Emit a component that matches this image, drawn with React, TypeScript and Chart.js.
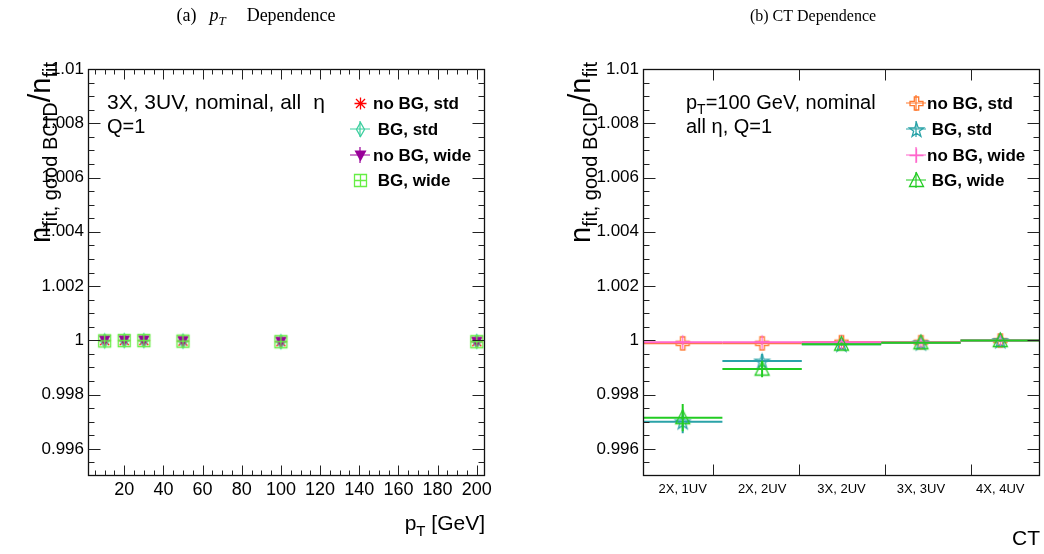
import React, { useEffect, useRef } from "react";
import { Chart, registerables } from "chart.js";

Chart.register(...registerables);

// ---------------- data ----------------
const ptValues = [10, 20, 30, 50, 100, 200];
const ptNoBGStd = [0.99999, 0.99999, 0.99999, 0.99997, 0.99995, 0.99995];
const ptBGStd = [0.99998, 0.99999, 0.99999, 0.99997, 0.99995, 0.99996];
const ptNoBGWide = [1.0, 1.0, 1.0, 0.99998, 0.99995, 0.99995];
const ptBGWide = [0.99998, 0.99999, 0.99999, 0.99997, 0.99995, 0.99995];
const ptErr = [0.00004, 0.00003, 0.00003, 0.00003, 0.00003, 0.00003];

const ctCategories = ["2X, 1UV", "2X, 2UV", "3X, 2UV", "3X, 3UV", "4X, 4UV"];
const ctNoBGStd = [0.99989, 0.99989, 0.99993, 0.99993, 0.99999];
const ctBGStd = [0.997, 0.99924, 0.99986, 0.99991, 0.99999];
const ctNoBGWide = [0.99993, 0.99993, 0.99993, 0.99992, 0.99999];
const ctBGWide = [0.99715, 0.99894, 0.99986, 0.99991, 0.99999];
const ctErrNoBGStd = [0.00004, 0.00004, 0.00003, 0.00003, 0.00003];
const ctErrBGStd = [0.00042, 0.00026, 0.00006, 0.00004, 0.00004];
const ctErrNoBGWide = [0.00004, 0.00004, 0.00003, 0.00003, 0.00003];
const ctErrBGWide = [0.0005, 0.0003, 0.00006, 0.00004, 0.00004];

const yTickValues = [0.996, 0.998, 1, 1.002, 1.004, 1.006, 1.008, 1.01];
const yTickLabels = ["0.996", "0.998", "1", "1.002", "1.004", "1.006", "1.008", "1.01"];
const ptTickValues = [20, 40, 60, 80, 100, 120, 140, 160, 180, 200];
const ptTickLabels = ["20", "40", "60", "80", "100", "120", "140", "160", "180", "200"];
const ctTickMarks = [0.88, 1.97, 3.05, 4.13];

const Y_MIN = 0.995;
const Y_MAX = 1.01;
const PT_MIN = 1.5;
const PT_MAX = 204.2;

// ---------------- styling ----------------
const FONT = "'Liberation Sans', Arial, Helvetica, sans-serif";
const SERIF = "'Liberation Serif', 'Times New Roman', serif";

const C = {
  red: "#ff0000",
  teal: "#3ccf9f",
  purple: "#990099",
  lime: "#66ee44",
  orange: "#ff7a30",
  cyan: "#2aa3a8",
  pink: "#ff66cc",
  green: "#22cc22",
};

function makeMarker(kind: string, color: string, size = 19): HTMLCanvasElement {
  const c = document.createElement("canvas");
  c.width = size;
  c.height = size;
  const g = c.getContext("2d")!;
  const m = size / 2;
  g.strokeStyle = color;
  g.fillStyle = color;
  g.lineWidth = 1.3;
  g.beginPath();
  if (kind === "asterisk") {
    const r = 6;
    const d = r * 0.75;
    g.moveTo(m - r, m); g.lineTo(m + r, m);
    g.moveTo(m, m - r); g.lineTo(m, m + r);
    g.moveTo(m - d, m - d); g.lineTo(m + d, m + d);
    g.moveTo(m - d, m + d); g.lineTo(m + d, m - d);
    g.stroke();
  } else if (kind === "thinDiamond") {
    g.moveTo(m, m - 7); g.lineTo(m + 4, m); g.lineTo(m, m + 7); g.lineTo(m - 4, m); g.closePath();
    g.stroke();
  } else if (kind === "triDown") {
    g.moveTo(m - 6, m - 5); g.lineTo(m + 6, m - 5); g.lineTo(m, m + 6); g.closePath();
    g.fill();
  } else if (kind === "boxPlus") {
    g.rect(m - 6, m - 6, 12, 12);
    g.moveTo(m - 6, m); g.lineTo(m + 6, m);
    g.moveTo(m, m - 6); g.lineTo(m, m + 6);
    g.stroke();
  } else if (kind === "openCross") {
    const a = 6.5, b = 2.2;
    g.moveTo(m - b, m - a); g.lineTo(m + b, m - a); g.lineTo(m + b, m - b); g.lineTo(m + a, m - b);
    g.lineTo(m + a, m + b); g.lineTo(m + b, m + b); g.lineTo(m + b, m + a); g.lineTo(m - b, m + a);
    g.lineTo(m - b, m + b); g.lineTo(m - a, m + b); g.lineTo(m - a, m - b); g.lineTo(m - b, m - b);
    g.closePath();
    g.stroke();
  } else if (kind === "openStar") {
    const ro = 7.5, ri = 3;
    for (let k = 0; k < 10; k++) {
      const r = k % 2 === 0 ? ro : ri;
      const ang = -Math.PI / 2 + (k * Math.PI) / 5;
      const px = m + r * Math.cos(ang);
      const py = m + 0.8 + r * Math.sin(ang);
      if (k === 0) g.moveTo(px, py); else g.lineTo(px, py);
    }
    g.closePath();
    g.stroke();
  } else if (kind === "plus") {
    g.moveTo(m - 7, m); g.lineTo(m + 7, m);
    g.moveTo(m, m - 7); g.lineTo(m, m + 7);
    g.stroke();
  } else if (kind === "openTriUp") {
    g.moveTo(m, m - 7.5); g.lineTo(m + 7, m + 6); g.lineTo(m - 7, m + 6); g.closePath();
    g.stroke();
  }
  return c;
}

// ---------------- drawing helpers ----------------
type Part = { t: string; size: number; bold?: boolean; italic?: boolean; dy?: number; serif?: boolean; gap?: number };

function fontOf(p: Part) {
  return `${p.italic ? "italic " : ""}${p.bold ? "bold " : ""}${p.size}px ${p.serif ? SERIF : FONT}`;
}

function drawRich(ctx: CanvasRenderingContext2D, parts: Part[], x: number, y: number, align: string) {
  let w = 0;
  for (const p of parts) {
    ctx.font = fontOf(p);
    w += ctx.measureText(p.t).width + (p.gap || 0);
  }
  let cx = align === "left" ? x : align === "right" ? x - w : x - w / 2;
  ctx.textAlign = "left";
  ctx.textBaseline = "alphabetic";
  for (const p of parts) {
    ctx.font = fontOf(p);
    cx += p.gap || 0;
    ctx.fillText(p.t, cx, y + (p.dy || 0));
    cx += ctx.measureText(p.t).width;
  }
}

function minorRange(from: number, to: number, step: number) {
  const out: number[] = [];
  for (let v = from; v <= to + step * 1e-6; v += step) out.push(+v.toFixed(6));
  return out;
}

function drawErrorBars(chart: any, index: number) {
  const ds: any = chart.data.datasets[index];
  if (!ds || !ds.yErr) return;
  const { ctx, chartArea: a, scales } = chart;
  const xs = scales.x, ys = scales.y;
  ctx.save();
  ctx.beginPath();
  ctx.rect(a.left, a.top, a.right - a.left, a.bottom - a.top);
  ctx.clip();
  ctx.strokeStyle = ds.errColor;
  ctx.lineWidth = ds.errWidth || 1;
  ds.data.forEach((pt: any, i: number) => {
    const px = xs.getPixelForValue(pt.x);
    const py = ys.getPixelForValue(pt.y);
    ctx.beginPath();
    if (ds.xErr) {
      ctx.moveTo(xs.getPixelForValue(pt.x - ds.xErr), py);
      ctx.lineTo(xs.getPixelForValue(pt.x + ds.xErr), py);
    }
    const e = ds.yErr[i];
    ctx.moveTo(px, ys.getPixelForValue(pt.y - e));
    ctx.lineTo(px, ys.getPixelForValue(pt.y + e));
    ctx.stroke();
  });
  ctx.restore();
}

function drawFrame(
  chart: any,
  xMajor: number[],
  xMinor: number[],
  xMajorLen: number,
  xMinorLen: number
) {
  const { ctx, chartArea: a, scales } = chart;
  const L = Math.round(a.left) + 0.5;
  const R = Math.round(a.right) - 0.5;
  const T = Math.round(a.top) + 0.5;
  const B = Math.round(a.bottom) - 0.5;
  ctx.save();
  ctx.strokeStyle = "#111";
  ctx.lineWidth = 1.3;
  ctx.strokeRect(L, T, R - L, B - T);
  ctx.lineWidth = 1;
  ctx.strokeStyle = "#222";
  ctx.beginPath();
  const yMinor = minorRange(0.9955, 1.0095, 0.0005);
  for (const v of yMinor) {
    const y = Math.round(scales.y.getPixelForValue(v)) + 0.5;
    const isMajor = yTickValues.some((t) => Math.abs(t - v) < 1e-7);
    const len = isMajor ? 12 : 6;
    ctx.moveTo(L, y); ctx.lineTo(L + len, y);
    ctx.moveTo(R, y); ctx.lineTo(R - len, y);
  }
  for (const v of xMinor) {
    const x = Math.round(scales.x.getPixelForValue(v)) + 0.5;
    ctx.moveTo(x, B); ctx.lineTo(x, B - xMinorLen);
    ctx.moveTo(x, T); ctx.lineTo(x, T + xMinorLen);
  }
  for (const v of xMajor) {
    const x = Math.round(scales.x.getPixelForValue(v)) + 0.5;
    ctx.moveTo(x, B); ctx.lineTo(x, B - xMajorLen);
    ctx.moveTo(x, T); ctx.lineTo(x, T + xMajorLen);
  }
  ctx.stroke();
  ctx.restore();
}

function drawLegend(chart: any, mx: number, tx: number, rows: number[]) {
  const { ctx } = chart;
  ctx.save();
  chart.data.datasets.forEach((ds: any, i: number) => {
    const y = rows[i];
    if (ds.legendLines) {
      ctx.strokeStyle = ds.errColor;
      ctx.lineWidth = 1.2;
      ctx.beginPath();
      ctx.moveTo(mx - 10, y); ctx.lineTo(mx + 10, y);
      ctx.moveTo(mx, y - 8); ctx.lineTo(mx, y + 8);
      ctx.stroke();
    }
    const img = ds.pointStyle as HTMLCanvasElement;
    ctx.drawImage(img, Math.round(mx - img.width / 2), Math.round(y - img.height / 2));
    ctx.fillStyle = "#000";
    ctx.font = `bold 17px ${FONT}`;
    ctx.textAlign = "left";
    ctx.textBaseline = "middle";
    ctx.fillText(ds.label, tx, y + 1);
  });
  ctx.restore();
}

function drawYTitle(ctx: CanvasRenderingContext2D, x: number, yTop: number) {
  ctx.save();
  ctx.translate(x, yTop);
  ctx.rotate(-Math.PI / 2);
  ctx.fillStyle = "#000";
  drawRich(
    ctx,
    [
      { t: "n", size: 29 },
      { t: "fit, good BCID", size: 20, dy: 7 },
      { t: "/", size: 31 },
      { t: "n", size: 29 },
      { t: "fit", size: 20, dy: 7 },
    ],
    0,
    0,
    "right"
  );
  ctx.restore();
}

function yAxisConfig(width: number) {
  return {
    type: "linear",
    min: Y_MIN,
    max: Y_MAX,
    afterFit(axis: any) {
      axis.width = width;
      axis.paddingTop = 0;
      axis.paddingBottom = 0;
    },
    afterBuildTicks(axis: any) {
      axis.ticks = yTickValues.map((v) => ({ value: v }));
    },
    ticks: {
      autoSkip: false,
      padding: 4,
      color: "#000",
      font: { family: FONT, size: 17 },
      callback: (v: number) => {
        const i = yTickValues.findIndex((t) => Math.abs(t - v) < 1e-9);
        return i >= 0 ? yTickLabels[i] : "";
      },
    },
    grid: { display: false, drawTicks: false },
    border: { display: false },
  };
}

// ---------------- chart configs ----------------
function leftConfig(): any {
  const mk = (label: string, ys: number[], kind: string, color: string, lines: boolean, order: number) => ({
    label,
    data: ptValues.map((x, i) => ({ x, y: ys[i] })),
    yErr: ptErr,
    errColor: color,
    errWidth: 1,
    legendLines: lines,
    pointStyle: makeMarker(kind, color),
    pointRadius: 7,
    showLine: false,
    order,
  });
  const datasets = [
    mk("no BG, std", ptNoBGStd, "asterisk", C.red, false, 10),
    mk(" BG, std", ptBGStd, "thinDiamond", C.teal, true, 9),
    mk("no BG, wide", ptNoBGWide, "triDown", C.purple, true, 8),
    mk(" BG, wide", ptBGWide, "boxPlus", C.lime, false, 7),
  ];
  const plugin = {
    id: "leftDecor",
    beforeDatasetDraw(chart: any, args: any) {
      drawErrorBars(chart, args.index);
    },
    afterDraw(chart: any) {
      const ctx = chart.ctx;
      drawFrame(chart, ptTickValues, minorRange(5, 200, 5), 10, 5);
      drawLegend(chart, 360, 373, [103, 129, 155, 180]);
      ctx.save();
      ctx.fillStyle = "#000";
      drawRich(
        ctx,
        [
          { t: "(a)", size: 18, serif: true },
          { t: "p", size: 18, serif: true, italic: true, gap: 13 },
          { t: "T", size: 13, serif: true, italic: true, dy: 4 },
          { t: "Dependence", size: 18, serif: true, gap: 21 },
        ],
        256,
        21,
        "center"
      );
      drawRich(ctx, [{ t: "3X, 3UV, nominal, all", size: 21 }, { t: "η", size: 21, gap: 12 }], 107, 109, "left");
      drawRich(ctx, [{ t: "Q=1", size: 20 }], 107, 133, "left");
      drawRich(ctx, [{ t: "p", size: 21 }, { t: "T", size: 15, dy: 6 }, { t: " [GeV]", size: 21 }], 485, 530, "right");
      drawYTitle(ctx, 50, 62);
      ctx.restore();
    },
  };
  return {
    type: "scatter",
    data: { datasets },
    plugins: [plugin],
    options: {
      responsive: true,
      maintainAspectRatio: false,
      animation: false,
      layout: { autoPadding: false, padding: { left: 0, right: 37, top: 69, bottom: 0 } },
      plugins: { legend: { display: false }, tooltip: { enabled: false } },
      scales: {
        x: {
          type: "linear",
          min: PT_MIN,
          max: PT_MAX,
          afterFit(axis: any) {
            axis.height = 78;
            axis.paddingLeft = 0;
            axis.paddingRight = 0;
          },
          afterBuildTicks(axis: any) {
            axis.ticks = ptTickValues.map((v) => ({ value: v }));
          },
          ticks: {
            autoSkip: false,
            maxRotation: 0,
            padding: 3,
            color: "#000",
            font: { family: FONT, size: 18 },
            callback: (v: number) => {
              const i = ptTickValues.indexOf(v);
              return i >= 0 ? ptTickLabels[i] : "";
            },
          },
          grid: { display: false, drawTicks: false },
          border: { display: false },
        },
        y: yAxisConfig(88),
      },
    },
  };
}

function rightConfig(): any {
  const mk = (label: string, ys: number[], errs: number[], kind: string, color: string, order: number) => ({
    label,
    data: ctCategories.map((_, i) => ({ x: i + 0.5, y: ys[i] })),
    yErr: errs,
    xErr: 0.5,
    errColor: color,
    errWidth: 2,
    legendLines: true,
    pointStyle: makeMarker(kind, color),
    pointRadius: 7,
    showLine: false,
    order,
  });
  const datasets = [
    mk("no BG, std", ctNoBGStd, ctErrNoBGStd, "openCross", C.orange, 10),
    mk(" BG, std", ctBGStd, ctErrBGStd, "openStar", C.cyan, 9),
    mk("no BG, wide", ctNoBGWide, ctErrNoBGWide, "plus", C.pink, 8),
    mk(" BG, wide", ctBGWide, ctErrBGWide, "openTriUp", C.green, 7),
  ];
  const plugin = {
    id: "rightDecor",
    beforeDatasetDraw(chart: any, args: any) {
      drawErrorBars(chart, args.index);
    },
    afterDraw(chart: any) {
      const ctx = chart.ctx;
      drawFrame(chart, ctTickMarks, [], 11, 5);
      drawLegend(chart, 916 - 522, 927 - 522, [103, 129, 155, 180]);
      ctx.save();
      ctx.fillStyle = "#000";
      drawRich(ctx, [{ t: "(b) CT Dependence", size: 16, serif: true }], 813 - 522, 21, "center");
      drawRich(ctx, [{ t: "p", size: 20 }, { t: "T", size: 14, dy: 5 }, { t: "=100 GeV, nominal", size: 20 }], 686 - 522, 109, "left");
      drawRich(ctx, [{ t: "all η, Q=1", size: 20 }], 686 - 522, 133, "left");
      drawRich(ctx, [{ t: "CT", size: 21 }], 1040 - 522, 545, "right");
      drawYTitle(ctx, 590 - 522, 62);
      ctx.restore();
    },
  };
  return {
    type: "scatter",
    data: { datasets },
    plugins: [plugin],
    options: {
      responsive: true,
      maintainAspectRatio: false,
      animation: false,
      layout: { autoPadding: false, padding: { left: 0, right: 4, top: 69, bottom: 0 } },
      plugins: { legend: { display: false }, tooltip: { enabled: false } },
      scales: {
        x: {
          type: "linear",
          min: 0,
          max: ctCategories.length,
          afterFit(axis: any) {
            axis.height = 78;
            axis.paddingLeft = 0;
            axis.paddingRight = 0;
          },
          afterBuildTicks(axis: any) {
            axis.ticks = ctCategories.map((_, i) => ({ value: i + 0.5 }));
          },
          ticks: {
            autoSkip: false,
            maxRotation: 0,
            padding: 6,
            color: "#000",
            font: { family: FONT, size: 13 },
            callback: (v: number) => ctCategories[Math.floor(v)] || "",
          },
          grid: { display: false, drawTicks: false },
          border: { display: false },
        },
        y: yAxisConfig(121),
      },
    },
  };
}

export default function App() {
  const leftRef = useRef<HTMLCanvasElement>(null);
  const rightRef = useRef<HTMLCanvasElement>(null);
  useEffect(() => {
    const c1 = new Chart(leftRef.current!, leftConfig());
    const c2 = new Chart(rightRef.current!, rightConfig());
    return () => {
      c1.destroy();
      c2.destroy();
    };
  }, []);
  return (
    <div style={{ position: "absolute", left: 0, top: 0, width: 1044, height: 554, background: "#fff" }}>
      <div style={{ position: "absolute", left: 0, top: 0, width: 522, height: 554 }}>
        <canvas ref={leftRef} />
      </div>
      <div style={{ position: "absolute", left: 522, top: 0, width: 522, height: 554 }}>
        <canvas ref={rightRef} />
      </div>
    </div>
  );
}
